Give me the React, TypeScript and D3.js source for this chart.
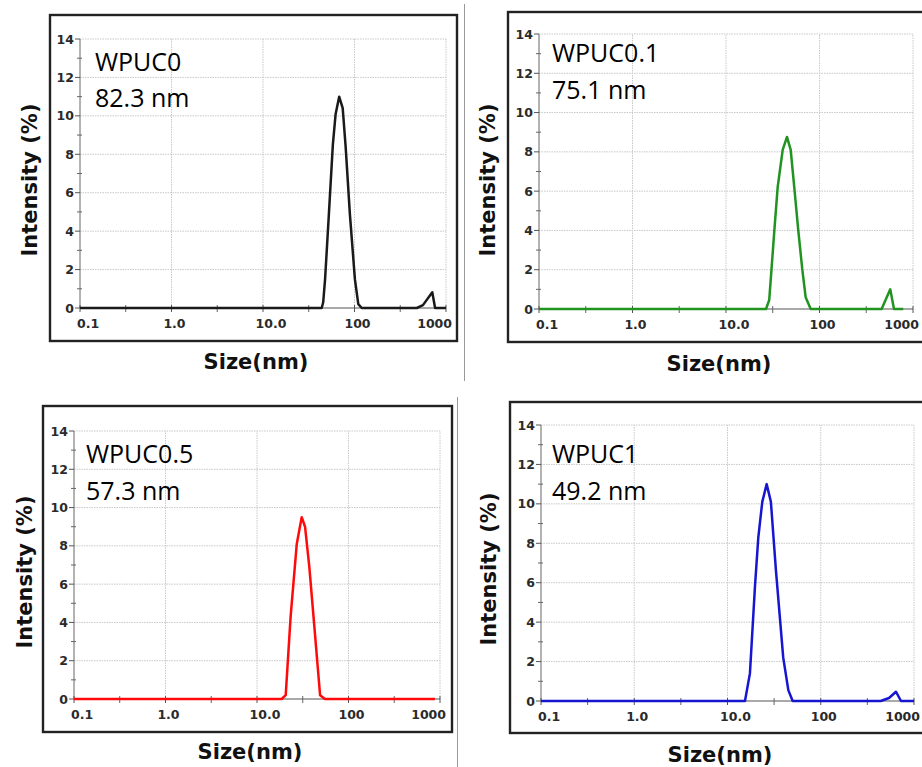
import React from "react";
import * as d3 from "d3";

// size (nm), intensity (%)
const wpuc0: [number, number][] = [
  [0.1, 0], [43.8, 0], [45.5, 0.3], [47.7, 1.5], [52.5, 4.9], [58, 8.5], [62.2, 10.1],
  [68, 11.0], [74.3, 10.4], [80, 8.4], [89, 4.9], [101, 1.5], [110, 0.2], [120, 0],
  [480, 0], [560, 0.15], [708, 0.82], [760, 0], [1000, 0],
];
const wpuc01: [number, number][] = [
  [0.1, 0], [26.8, 0], [29, 0.46], [32.9, 4.0], [35.7, 6.2], [40.4, 8.1], [44.9, 8.76],
  [49.2, 8.1], [53.7, 6.2], [59.3, 4.0], [65.5, 2.0], [71.1, 0.6], [80.5, 0],
  [462, 0], [571, 1.0], [626, 0], [787, 0],
];
const wpuc05: [number, number][] = [
  [0.1, 0], [18.6, 0], [20.6, 0.2], [23.3, 4.3], [27.2, 8.1], [30.8, 9.5], [33.5, 9.0],
  [37.3, 6.9], [43, 3.4], [48.9, 0.2], [55.4, 0], [880, 0],
];
const wpuc1: [number, number][] = [
  [0.1, 0], [15.4, 0], [17.4, 1.4], [19.7, 5.8], [21.4, 8.3], [23.6, 10.1], [26.3, 11.0],
  [29.2, 10.1], [33.1, 6.6], [39.6, 2.2], [44.9, 0.55], [50, 0],
  [440, 0], [540, 0.15], [641, 0.47], [726, 0], [1000, 0],
];

const sampleNames = ["WPUC0", "WPUC0.1", "WPUC0.5", "WPUC1"];
const meanSizes = ["82.3 nm", "75.1 nm", "57.3 nm", "49.2 nm"];

const xTicks = [0.1, 1, 10, 100, 1000];
const xTickLabels = ["0.1", "1.0", "10.0", "100", "1000"];
const xMinorTicks = [0.316, 3.16, 31.6, 316];
const yTicks = [0, 2, 4, 6, 8, 10, 12, 14];
const yMinorTicks = [1, 3, 5, 7, 9, 11, 13];

const layouts = [
  { frame: [50, 15, 407, 326], plot: [80, 446, 308, 39], name: [95, 71, 107], yT: [37, 180], xT: [256, 369], color: "#1a1a1a", data: wpuc0 },
  { frame: [508, 12, 430, 330], plot: [539, 913, 309, 34], name: [552, 62, 99], yT: [495, 180], xT: [719, 371], color: "#219321", data: wpuc01 },
  { frame: [43, 406, 409, 326], plot: [74, 440, 699, 431], name: [86, 463, 500], yT: [32, 572], xT: [250, 759], color: "#ff0a0a", data: wpuc05 },
  { frame: [510, 402, 430, 331], plot: [541, 914, 701, 425], name: [552, 463, 500], yT: [496, 569], xT: [720, 762], color: "#1616d0", data: wpuc1 },
];

const tickFont = "'DejaVu Sans', sans-serif";

const Panel = ({ lay, i }: { lay: any; i: number }) => {
  const [fx, fy, fw, fh] = lay.frame;
  const [x0, x1, y0, y1] = lay.plot;
  const x = d3.scaleLog().domain([0.1, 1000]).range([x0, x1]);
  const y = d3.scaleLinear().domain([0, 14]).range([y0, y1]);
  const line = d3
    .line<[number, number]>()
    .x((d) => x(d[0]))
    .y((d) => y(d[1]));
  return (
    <g>
      <rect x={fx} y={fy} width={fw} height={fh} fill="white" stroke="#222" strokeWidth={2.4} />
      {/* grid */}
      {yTicks.slice(1).map((t) => (
        <line key={"gy" + t} x1={x0} x2={x1} y1={y(t)} y2={y(t)} stroke="#c8c8c8" strokeWidth={1} strokeDasharray="1.5,1" />
      ))}
      {xTicks.slice(1).map((t) => (
        <line key={"gx" + t} x1={x(t)} x2={x(t)} y1={y0} y2={y1} stroke="#c8c8c8" strokeWidth={1} strokeDasharray="1.5,1" />
      ))}
      {/* axes */}
      <line x1={x0} x2={x0} y1={y0} y2={y1} stroke="#666" strokeWidth={1} />
      <line x1={x0} x2={x1} y1={y0} y2={y0} stroke="#555" strokeWidth={1} />
      {yTicks.map((t) => (
        <g key={"yt" + t}>
          <line x1={x0 - 5} x2={x0} y1={y(t)} y2={y(t)} stroke="#555" />
          <text x={x0 - 6} y={y(t)} dy="0.36em" textAnchor="end" fontFamily={tickFont} fontWeight="bold" fontSize={12.5} fill="#2a2a2a">
            {t}
          </text>
        </g>
      ))}
      {yMinorTicks.map((t) => (
        <line key={"ym" + t} x1={x0 - 3} x2={x0 + 2} y1={y(t)} y2={y(t)} stroke="#666" />
      ))}
      {xTicks.map((t, k) => (
        <g key={"xt" + t}>
          <line x1={x(t)} x2={x(t)} y1={y0 - 3} y2={y0 + 4} stroke="#555" />
          <text
            x={x(t) + (k === 0 ? -3 : k === xTicks.length - 1 ? 6 : k === 2 ? 8 : 3)}
            y={y0 + 20}
            textAnchor={k === 0 ? "start" : k === xTicks.length - 1 ? "end" : "middle"}
            fontFamily={tickFont}
            fontWeight="bold"
            fontSize={12.5}
            fill="#2a2a2a"
          >
            {xTickLabels[k]}
          </text>
        </g>
      ))}
      {xMinorTicks.map((t) => (
        <line key={"xm" + t} x1={x(t)} x2={x(t)} y1={y0 - 3} y2={y0 + 4} stroke="#666" />
      ))}
      <path d={line(lay.data) || ""} fill="none" stroke={lay.color} strokeWidth={2.5} strokeLinejoin="round" />
      <text x={lay.name[0]} y={lay.name[1]} fontFamily="'Open Sans', sans-serif" fontSize={25} fill="#000">
        {sampleNames[i]}
      </text>
      <text x={lay.name[0]} y={lay.name[2]} fontFamily="'Open Sans', sans-serif" fontSize={25} fill="#000">
        {meanSizes[i]}
      </text>
      <text
        transform={`translate(${lay.yT[0]},${lay.yT[1]}) rotate(-90)`}
        textAnchor="middle"
        fontFamily={tickFont}
        fontWeight="bold"
        fontSize={21}
        fill="#111"
      >
        Intensity (%)
      </text>
      <text x={lay.xT[0]} y={lay.xT[1]} textAnchor="middle" fontFamily={tickFont} fontWeight="bold" fontSize={21} fill="#111">
        Size(nm)
      </text>
    </g>
  );
};

export default function App() {
  return (
    <svg width={922} height={767} style={{ position: "absolute", left: 0, top: 0, background: "white" }}>
      <rect width={922} height={767} fill="white" />
      <line x1={464.5} x2={464.5} y1={4} y2={381} stroke="#999" strokeWidth={1} />
      <line x1={457.5} x2={457.5} y1={397} y2={767} stroke="#999" strokeWidth={1} />
      {layouts.map((lay, i) => (
        <Panel key={i} lay={lay} i={i} />
      ))}
    </svg>
  );
}
